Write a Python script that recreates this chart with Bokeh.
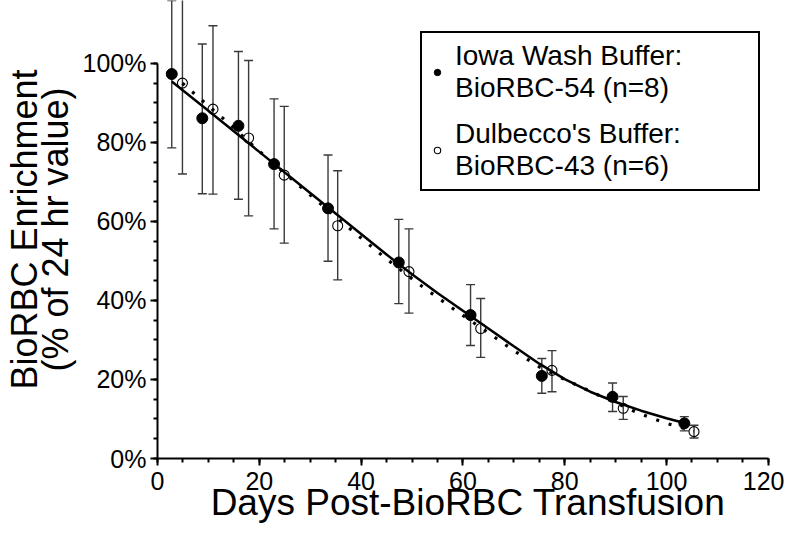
from bokeh.plotting import figure
from bokeh.models import (ColumnDataSource, Whisker, TeeHead, Range1d, SingleIntervalTicker,
                          FixedTicker, LinearAxis, PrintfTickFormatter, Legend, LegendItem)
from bokeh.embed import file_html
from bokeh.resources import INLINE

# ---- data ----
iowa_days  = [2.8, 8.8, 15.9, 22.9, 33.5, 47.4, 61.5, 75.5, 89.4, 103.5]
iowa_mean  = [97.3, 86.1, 84.2, 74.5, 63.3, 49.6, 36.3, 20.9, 15.6, 8.9]
iowa_upper = [115.9, 104.9, 103.0, 91.0, 76.8, 60.5, 44.0, 25.3, 19.1, 10.6]
iowa_lower = [78.6, 67.0, 65.6, 58.1, 49.9, 39.2, 28.6, 16.5, 11.9, 7.0]

dul_days  = [4.9, 10.9, 17.9, 24.9, 35.4, 49.4, 63.5, 77.5, 91.5, 105.4]
dul_mean  = [95.0, 88.4, 81.1, 71.7, 58.9, 47.3, 32.9, 22.3, 12.7, 6.8]
dul_upper = [117.8, 109.5, 100.7, 89.1, 72.8, 58.1, 40.5, 27.3, 15.7, 8.4]
dul_lower = [72.0, 66.9, 61.4, 54.5, 45.2, 36.8, 25.6, 16.9, 9.9, 5.2]

iowa_fit_days = [2.8, 10, 20, 30, 40, 45, 50, 55, 60, 65, 70, 75, 80, 85, 90, 95, 100, 103.5]
iowa_fit_vals = [95.4, 88.0, 77.6, 67.2, 56.8, 51.6, 46.6, 41.9, 37.4, 32.9, 28.4, 24.0, 20.1, 16.9,
                 14.3, 12.1, 10.2, 9.0]

dul_fit_days = [4.9, 9.2, 13.4, 19.5, 27.9, 33, 38.5, 44.6, 51.4, 58.2, 65, 70, 75, 80, 85, 90,
                95, 100, 105.4]
dul_fit_vals = [95.0, 90.1, 85.5, 78.3, 69.0, 63.4, 57.4, 50.9, 44.1, 37.8, 31.8, 27.3, 23.2, 20.0,
                17.0, 14.1, 11.2, 8.9, 6.9]

label_iowa = "Iowa Wash Buffer:\nBioRBC-54 (n=8)"
label_dul = "Dulbecco's Buffer:" + "\u00a0" * 9 + "\nBioRBC-43 (n=6)"
x_title = "Days Post-BioRBC Transfusion"
y_title_1 = "BioRBC Enrichment"
y_title_2 = "(% of 24 hr value)"

FONT = "Liberation Sans"

p = figure(width=784, height=530, output_backend="svg", toolbar_location=None,
           x_range=Range1d(0, 122), y_range=Range1d(0, 115.9),
           min_border_left=147, min_border_right=6, min_border_top=0, min_border_bottom=72)
p.outline_line_color = None
p.xgrid.visible = False
p.ygrid.visible = False
p.background_fill_color = "white"
p.border_fill_color = "white"

iowa_src = ColumnDataSource(dict(x=iowa_days, y=iowa_mean, upper=iowa_upper, lower=iowa_lower))
dul_src = ColumnDataSource(dict(x=dul_days, y=dul_mean, upper=dul_upper, lower=dul_lower))

for src in (iowa_src, dul_src):
    w = Whisker(source=src, base="x", upper="upper", lower="lower",
                line_color="#3a3a3a", line_width=1.4,
                upper_head=TeeHead(size=9, line_color="#3a3a3a", line_width=1.4),
                lower_head=TeeHead(size=9, line_color="#3a3a3a", line_width=1.4))
    p.add_layout(w)

p.line(iowa_fit_days, iowa_fit_vals, line_color="black", line_width=2.5)
p.line(dul_fit_days, dul_fit_vals, line_color="black", line_width=3.2, line_dash="3 10")

r_iowa = p.scatter("x", "y", source=iowa_src, size=11, marker="circle",
                   fill_color="black", line_color="black")
r_dul = p.scatter("x", "y", source=dul_src, size=10, marker="circle",
                  fill_alpha=0, line_color="black", line_width=1.1)

# axes
for ax in (p.xaxis[0], p.yaxis[0]):
    ax.major_label_text_font = FONT
    ax.major_label_text_font_size = "25px"
    ax.major_label_text_color = "black"
    ax.axis_line_color = "black"
    ax.axis_line_width = 2
    ax.major_tick_line_color = "black"
    ax.major_tick_line_width = 2
    ax.minor_tick_line_color = "black"
    ax.minor_tick_line_width = 2
    ax.major_tick_in = 0
    ax.major_tick_out = 7
    ax.minor_tick_in = 0
    ax.minor_tick_out = 4
    ax.axis_label_text_font = FONT
    ax.axis_label_text_font_style = "normal"
    ax.axis_label_text_color = "black"

p.xaxis[0].ticker = SingleIntervalTicker(interval=20, num_minor_ticks=4)
p.xaxis[0].bounds = (0, 120)
p.xaxis[0].major_label_standoff = 6
p.xaxis[0].axis_label = x_title
p.xaxis[0].axis_label_text_font_size = "37px"
p.xaxis[0].axis_label_standoff = -11

p.yaxis[0].ticker = SingleIntervalTicker(interval=20, num_minor_ticks=4)
p.yaxis[0].bounds = (0, 100)
p.yaxis[0].formatter = PrintfTickFormatter(format="%d%%")
p.yaxis[0].major_label_standoff = 4
p.yaxis[0].axis_label = y_title_2
p.yaxis[0].axis_label_text_font_size = "36px"
p.yaxis[0].axis_label_standoff = 4

# outer axis carrying only the first line of the y title
y_outer = LinearAxis(ticker=FixedTicker(ticks=[]), axis_label=y_title_1,
                     axis_label_text_font=FONT, axis_label_text_font_size="36px",
                     axis_label_text_font_style="normal", axis_label_text_color="black",
                     axis_line_color=None, major_tick_line_color=None, minor_tick_line_color=None,
                     major_tick_out=0, major_tick_in=0, minor_tick_out=0, minor_tick_in=0,
                     major_label_standoff=0, major_label_text_font_size="0px",
                     axis_label_standoff=-13)
p.add_layout(y_outer, "left")

legend = Legend(items=[LegendItem(label=label_iowa, renderers=[r_iowa]),
                       LegendItem(label=label_dul, renderers=[r_dul])],
                location=(263, 267), orientation="vertical",
                label_text_font=FONT, label_text_font_size="28px",
                label_text_color="black",
                glyph_width=16, glyph_height=40, label_standoff=10,
                padding=7, spacing=14, margin=0,
                border_line_color="black", border_line_width=2, border_line_alpha=1.0,
                background_fill_color="white", background_fill_alpha=1.0)
p.add_layout(legend)

open("out.html", "w").write(file_html(p, INLINE))
